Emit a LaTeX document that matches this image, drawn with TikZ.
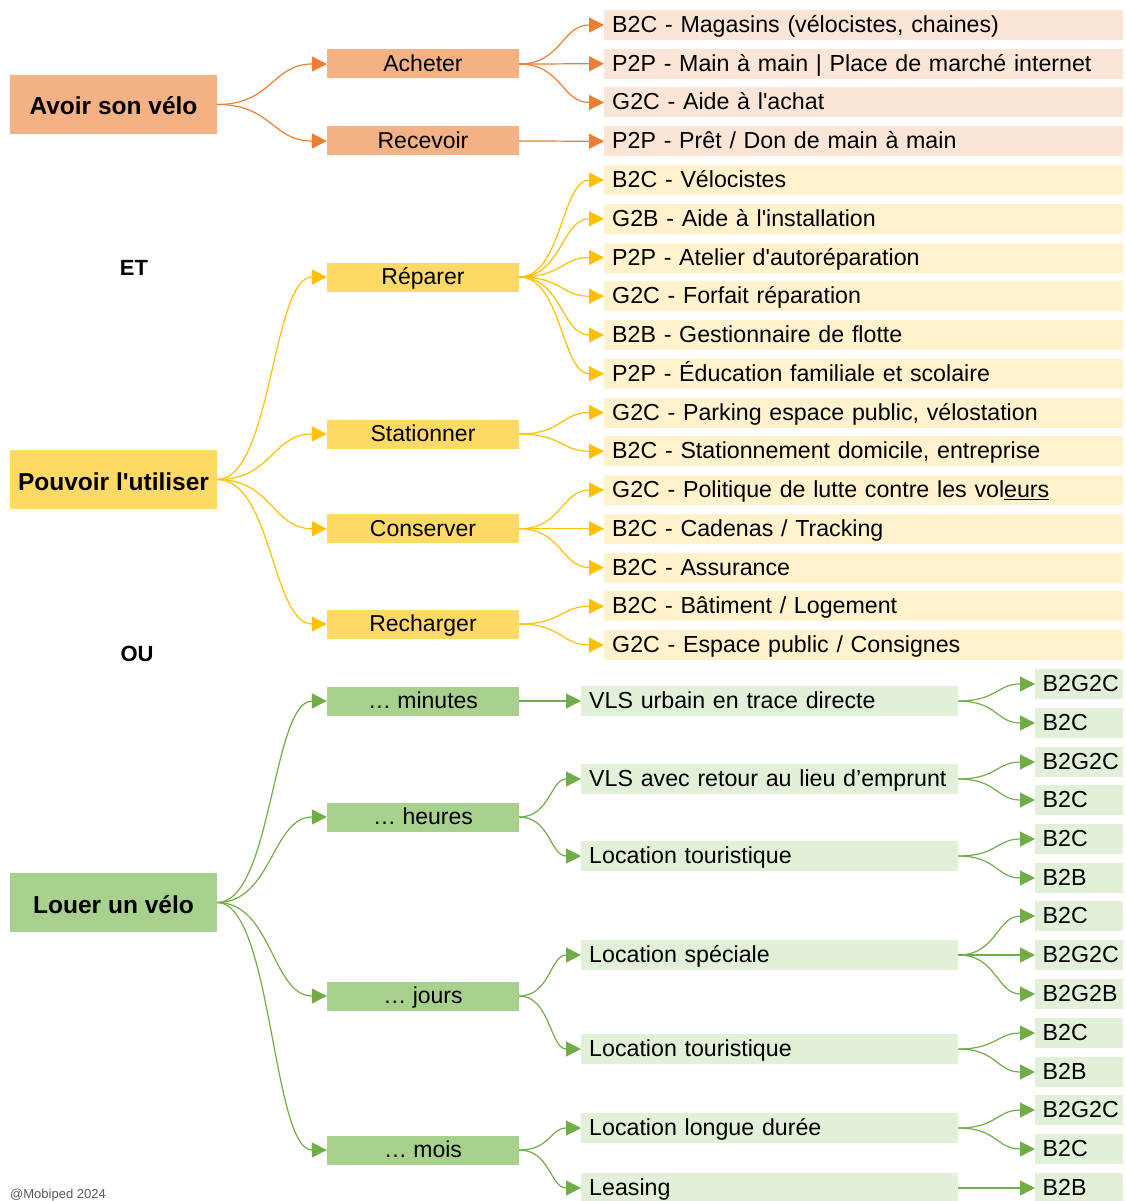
\documentclass[tikz,border=0pt]{standalone}
\usepackage{fontspec}
\setmainfont{Liberation Sans}
\usetikzlibrary{arrows.meta,calc}
\definecolor{oArr}{HTML}{ED7D31}
\definecolor{oMid}{HTML}{F4B183}
\definecolor{oLeaf}{HTML}{FBE5D6}
\definecolor{yArr}{HTML}{FFC000}
\definecolor{yMid}{HTML}{FFD966}
\definecolor{yLeaf}{HTML}{FFF2CC}
\definecolor{gArr}{HTML}{70AD47}
\definecolor{gMid}{HTML}{A9D18E}
\definecolor{gLeaf}{HTML}{E2F0D9}
\definecolor{credit}{HTML}{595959}
\newcommand\q{\textquotesingle}
\newcommand\lnk[3]{%
  \path ($(#1.east)!0.5!(#2.west)$) coordinate (mm);
  \draw[arr,#3] (#1.east) .. controls (mm |- #1.east) and (mm |- #2.west) .. (#2.west);}
\begin{document}
\begin{tikzpicture}[x=1pt,y=-1pt,
  rootbox/.style={minimum width=207pt, minimum height=59pt, inner sep=0pt,
    text height=24pt, text depth=3pt, font=\fontsize{24.5}{28}\selectfont\bfseries},
  midbox/.style={minimum width=192pt, minimum height=29pt, inner sep=0pt,
    text height=18pt, text depth=3pt, font=\fontsize{23}{27}\selectfont},
  leaf/.style={anchor=west, minimum height=30pt, inner xsep=8pt, inner ysep=0pt,
    text width=#1, align=left, text height=18pt, text depth=3pt,
    font=\fontsize{23.2}{27}\selectfont},
  leafO/.style={leaf=503pt, fill=oLeaf},
  leafY/.style={leaf=503pt, fill=yLeaf},
  leafG/.style={leaf=361pt, fill=gLeaf},
  leafS/.style={leaf=73pt, inner xsep=7.5pt, fill=gLeaf},
  arr/.style={line width=1.2pt, -{Triangle[length=15pt,width=15pt]}},
  sep/.style={font=\fontsize{22}{25}\selectfont\bfseries}
]
\useasboundingbox (0,0) rectangle (1125,1201);

% roots
\node[rootbox, fill=oMid] (r1) at (113.5,104.5) {Avoir son vélo};
\node[rootbox, fill=yMid] (r2) at (113.5,479.5) {Pouvoir l\q utiliser};
\node[rootbox, fill=gMid] (r3) at (113.5,902.5) {Louer un vélo};
\node[sep] (et) at (134,268) {ET};
\node[sep] (ou) at (137,654) {OU};

% middle level
\node[midbox, fill=oMid] (a1) at (423,64) {Acheter};
\node[midbox, fill=oMid] (a2) at (423,141) {Recevoir};
\node[midbox, fill=yMid] (b1) at (423,277) {Réparer};
\node[midbox, fill=yMid] (b2) at (423,434) {Stationner};
\node[midbox, fill=yMid] (b3) at (423,528.75) {Conserver};
\node[midbox, fill=yMid] (b4) at (423,624) {Recharger};
\node[midbox, fill=gMid] (c1) at (423,701) {… minutes};
\node[midbox, fill=gMid] (c2) at (423,817) {… heures};
\node[midbox, fill=gMid] (c3) at (423,996) {… jours};
\node[midbox, fill=gMid] (c4) at (423,1150) {… mois};

% orange leaves
\node[leafO] (o1) at (604,25) {B2C - Magasins (vélocistes, chaines)};
\node[leafO] (o2) at (604,63.75) {P2P - Main à main | Place de marché internet};
\node[leafO] (o3) at (604,102.5) {G2C - Aide à l\q achat};
\node[leafO] (o4) at (604,141.25) {P2P - Prêt / Don de main à main};

% yellow leaves
\node[leafY] (l1) at (604,180) {B2C - Vélocistes};
\node[leafY] (l2) at (604,218.75) {G2B - Aide à l\q installation};
\node[leafY] (l3) at (604,257.5) {P2P - Atelier d\q autoréparation};
\node[leafY] (l4) at (604,296.25) {G2C - Forfait réparation};
\node[leafY] (l5) at (604,335) {B2B - Gestionnaire de flotte};
\node[leafY] (l6) at (604,373.75) {P2P - Éducation familiale et scolaire};
\node[leafY] (l7) at (604,412.5) {G2C - Parking espace public, vélostation};
\node[leafY] (l8) at (604,451.25) {B2C - Stationnement domicile, entreprise};
\node[leafY] (l9) at (604,490) {G2C - Politique de lutte contre les vol\underline{eurs}};
\node[leafY] (l10) at (604,528.75) {B2C - Cadenas / Tracking};
\node[leafY] (l11) at (604,567.5) {B2C - Assurance};
\node[leafY] (l12) at (604,606.25) {B2C - Bâtiment / Logement};
\node[leafY] (l13) at (604,645) {G2C - Espace public / Consignes};

% green level 3
\node[leafG] (v1) at (581,701) {VLS urbain en trace directe};
\node[leafG] (v2) at (581,779) {VLS avec retour au lieu d’emprunt};
\node[leafG] (v3) at (581,856) {Location touristique};
\node[leafG] (v4) at (581,955) {Location spéciale};
\node[leafG] (v5) at (581,1049) {Location touristique};
\node[leafG] (v6) at (581,1128) {Location longue durée};
\node[leafG] (v7) at (581,1188) {Leasing};

% green level 4
\node[leafS] (w1) at (1035,684) {B2G2C};
\node[leafS] (w2) at (1035,723) {B2C};
\node[leafS] (w3) at (1035,762) {B2G2C};
\node[leafS] (w4) at (1035,800) {B2C};
\node[leafS] (w5) at (1035,839) {B2C};
\node[leafS] (w6) at (1035,878) {B2B};
\node[leafS] (w7) at (1035,916) {B2C};
\node[leafS] (w8) at (1035,955) {B2G2C};
\node[leafS] (w9) at (1035,994) {B2G2B};
\node[leafS] (w10) at (1035,1033) {B2C};
\node[leafS] (w11) at (1035,1072) {B2B};
\node[leafS] (w12) at (1035,1110) {B2G2C};
\node[leafS] (w13) at (1035,1149) {B2C};
\node[leafS] (w14) at (1035,1188) {B2B};

\node[anchor=base west, inner sep=0pt, text=credit,
  font=\fontsize{13}{15}\selectfont] (cr) at (10,1198) {@Mobiped 2024};

% connectors: orange
\lnk{r1}{a1}{oArr}\lnk{r1}{a2}{oArr}
\lnk{a1}{o1}{oArr}\lnk{a1}{o2}{oArr}\lnk{a1}{o3}{oArr}
\lnk{a2}{o4}{oArr}
% yellow
\lnk{r2}{b1}{yArr}\lnk{r2}{b2}{yArr}\lnk{r2}{b3}{yArr}\lnk{r2}{b4}{yArr}
\lnk{b1}{l1}{yArr}\lnk{b1}{l2}{yArr}\lnk{b1}{l3}{yArr}
\lnk{b1}{l4}{yArr}\lnk{b1}{l5}{yArr}\lnk{b1}{l6}{yArr}
\lnk{b2}{l7}{yArr}\lnk{b2}{l8}{yArr}
\lnk{b3}{l9}{yArr}\lnk{b3}{l10}{yArr}\lnk{b3}{l11}{yArr}
\lnk{b4}{l12}{yArr}\lnk{b4}{l13}{yArr}
% green
\lnk{r3}{c1}{gArr}\lnk{r3}{c2}{gArr}\lnk{r3}{c3}{gArr}\lnk{r3}{c4}{gArr}
\lnk{c1}{v1}{gArr}
\lnk{c2}{v2}{gArr}\lnk{c2}{v3}{gArr}
\lnk{c3}{v4}{gArr}\lnk{c3}{v5}{gArr}
\lnk{c4}{v6}{gArr}\lnk{c4}{v7}{gArr}
\lnk{v1}{w1}{gArr}\lnk{v1}{w2}{gArr}
\lnk{v2}{w3}{gArr}\lnk{v2}{w4}{gArr}
\lnk{v3}{w5}{gArr}\lnk{v3}{w6}{gArr}
\lnk{v4}{w7}{gArr}\lnk{v4}{w8}{gArr}\lnk{v4}{w9}{gArr}
\lnk{v5}{w10}{gArr}\lnk{v5}{w11}{gArr}
\lnk{v6}{w12}{gArr}\lnk{v6}{w13}{gArr}
\lnk{v7}{w14}{gArr}
\end{tikzpicture}
\end{document}
